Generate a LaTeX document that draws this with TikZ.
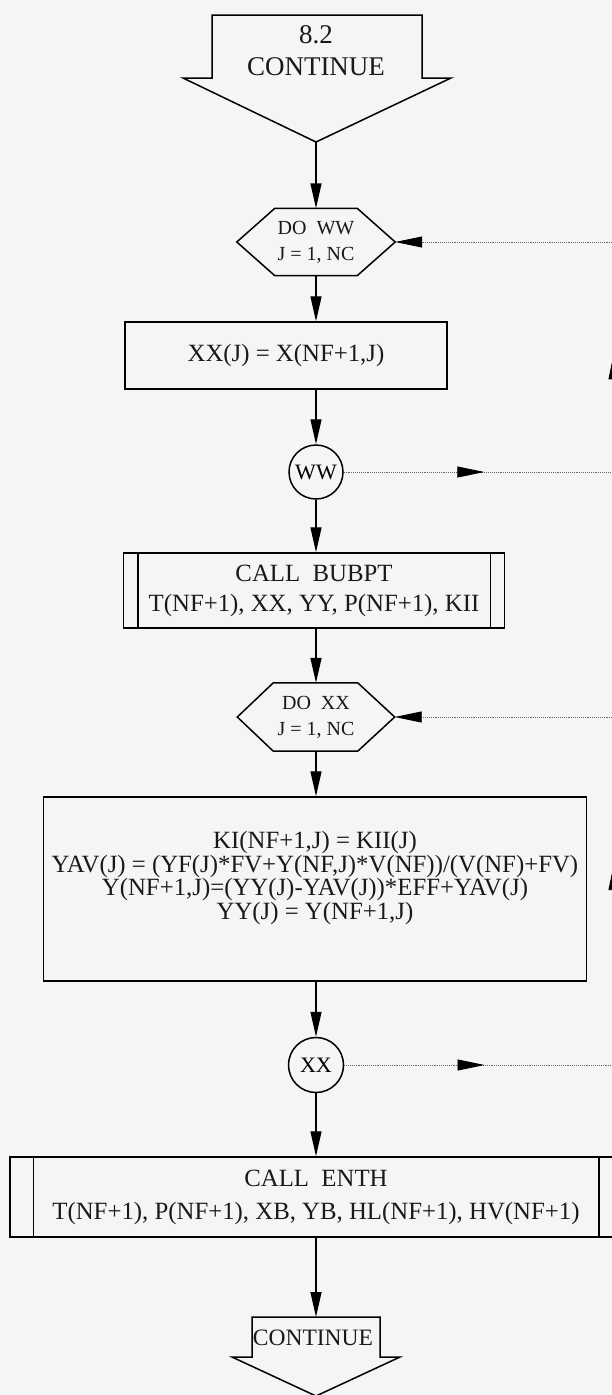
\documentclass[tikz,border=0pt]{standalone}
\usepackage{fontspec}
\setmainfont{Liberation Serif}
\usetikzlibrary{arrows.meta,decorations.markings}
\begin{document}
\begin{tikzpicture}[x=1pt,y=-1pt,
  outl/.style={draw=black, line width=1.5pt},
  flow/.style={line width=1.4pt, -{Triangle[length=25pt,width=11pt]}},
  loopline/.style={line width=0.9pt, densely dotted, draw=black!60},
  loopend/.style={loopline, -{Triangle[length=27pt,width=11pt,color=black]}},
  midarrow/.style={postaction={decorate}, decoration={markings, mark=at position #1 with {\arrow{Triangle[length=27pt,width=11pt,color=black]}}}},
  txt/.style={font=\fontsize{24.8}{30}\selectfont, align=center, inner sep=0pt, text=black!90},
  smalltxt/.style={font=\fontsize{20}{26}\selectfont, align=center, inner sep=0pt, text=black!90},
  anchorbox/.style={draw=none, inner sep=0pt},
]
\useasboundingbox (0,0) rectangle (612,1395);
\fill[black!4] (0,0) rectangle (612,1395);

% top off-page connector
\draw[outl] (212,15) -- (422,15) -- (422,78) -- (451,78) -- (316,142) -- (183,78) -- (212,78) -- cycle;
\node[txt, font=\fontsize{27}{32}\selectfont] (top) at (316,51) {8.2\\CONTINUE};
\coordinate (toptip) at (316,142);

% DO WW
\node[anchorbox, minimum width=158pt, minimum height=67pt] (doww) at (316,242) {};
\draw[outl] (doww.west) -- ([xshift=38pt]doww.north west) -- ([xshift=-38pt]doww.north east) -- (doww.east) -- ([xshift=-38pt]doww.south east) -- ([xshift=38pt]doww.south west) -- cycle;
\node[smalltxt] (dowwt) at (316,242) {DO\ \ WW\\J = 1, NC};

% XX(J) box
\node[outl, minimum width=322pt, minimum height=67pt, txt] (xxj) at (286,355.5) {XX(J) = X(NF+1,J)};

% WW circle
\node[outl, circle, minimum size=54pt, inner sep=0pt, font=\fontsize{22}{26}\selectfont] (ww) at (316,472) {WW};

% CALL BUBPT
\node[outl, minimum width=381pt, minimum height=75pt, txt] (bub) at (314,590.5) {CALL\ \ BUBPT\\T(NF+1), XX, YY, P(NF+1), KII};
\draw[outl] ([xshift=15pt]bub.north west) -- ([xshift=15pt]bub.south west);
\draw[outl] ([xshift=-15pt]bub.north east) -- ([xshift=-15pt]bub.south east);

% DO XX
\node[anchorbox, minimum width=157pt, minimum height=68pt] (doxx) at (316,717) {};
\draw[outl] (doxx.west) -- ([xshift=36pt]doxx.north west) -- ([xshift=-37pt]doxx.north east) -- (doxx.east) -- ([xshift=-37pt]doxx.south east) -- ([xshift=36pt]doxx.south west) -- cycle;
\node[smalltxt] (doxxt) at (316,717) {DO\ \ XX\\J = 1, NC};

% big box
\node[outl, minimum width=543pt, minimum height=184pt] (calc) at (315,889) {};
\node[txt, font=\fontsize{24.8}{23.5}\selectfont] (calct) at (315,878) {KI(NF+1,J) = KII(J)\\YAV(J) = (YF(J)*FV+Y(NF,J)*V(NF))/(V(NF)+FV)\\Y(NF+1,J)=(YY(J)-YAV(J))*EFF+YAV(J)\\YY(J) = Y(NF+1,J)};

% XX circle
\node[outl, circle, minimum size=55pt, inner sep=0pt, font=\fontsize{22}{26}\selectfont] (xx) at (316,1065) {XX};

% CALL ENTH
\node[outl, minimum width=612pt, minimum height=80pt, txt, text depth=0pt] (enth) at (316,1197) {};
\node[txt, font=\fontsize{24.8}{33}\selectfont] (entht) at (316,1197) {CALL\ \ ENTH\\T(NF+1), P(NF+1), XB, YB, HL(NF+1), HV(NF+1)};
\draw[outl] ([xshift=24pt]enth.north west) -- ([xshift=24pt]enth.south west);
\draw[outl] ([xshift=-24pt]enth.north east) -- ([xshift=-24pt]enth.south east);

% bottom off-page connector
\coordinate (bottop) at (316,1317);
\draw[outl] (252,1317) -- (380,1317) -- (380,1357) -- (400,1357) -- (316,1396) -- (232,1357) -- (252,1357) -- cycle;
\node[txt, font=\fontsize{23.5}{28}\selectfont] (bott) at (313,1338) {CONTINUE};

% flow connectors
\draw[flow] (toptip) -- (doww.north);
\draw[flow] (doww.south) -- (xxj.north -| doww.south);
\draw[flow] (xxj.south -| ww.north) -- (ww.north);
\draw[flow] (ww.south) -- (bub.north -| ww.south);
\draw[flow] (bub.south -| doxx.north) -- (doxx.north);
\draw[flow] (doxx.south) -- (calc.north -| doxx.south);
\draw[flow] (calc.south -| xx.north) -- (xx.north);
\draw[flow] (xx.south) -- (enth.north -| xx.south);
\draw[flow] (enth.south -| bottop) -- (bottop);

% loop-back connectors
\coordinate (r1) at (614,472);
\coordinate (r2) at (614,242);
\draw[loopline, midarrow=0.52] (ww.east) -- (r1);
\draw[loopline, midarrow=0.52] (r1) -- (r2);
\draw[loopend] (r2) -- (doww.east);

\coordinate (r3) at (614,1065);
\coordinate (r4) at (614,717);
\draw[loopline, midarrow=0.52] (xx.east) -- (r3);
\draw[loopline, midarrow=0.58] (r3) -- (r4);
\draw[loopend] (r4) -- (doxx.east);
\end{tikzpicture}
\end{document}
